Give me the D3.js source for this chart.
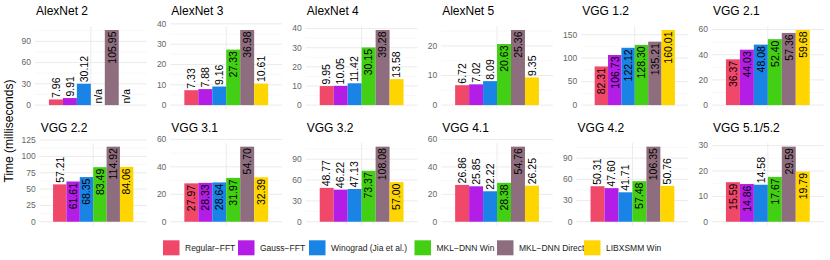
<!DOCTYPE html>
<html>
<head>
  <meta charset="utf-8">
  <title>Convolution layer times</title>
  <style>
    body { margin: 0; background: #fff; }
    text { font-family: "Liberation Sans", Arial, sans-serif; }
  </style>
</head>
<body>
<script src="https://cdnjs.cloudflare.com/ajax/libs/d3/7.8.5/d3.min.js"></script>
<div id="vis"></div>
<script>

var panels = ["AlexNet 2", "AlexNet 3", "AlexNet 4", "AlexNet 5", "VGG 1.2", "VGG 2.1",
              "VGG 2.2", "VGG 3.1", "VGG 3.2", "VGG 4.1", "VGG 4.2", "VGG 5.1/5.2"];

var methods = ["Regular\u2212FFT", "Gauss\u2212FFT", "Winograd (Jia et al.)",
               "MKL\u2212DNN Win", "MKL\u2212DNN Direct", "LIBXSMM Win"];

var colors = ["#ef4869", "#b31de6", "#1a84e6", "#43cf14", "#8e6e7e", "#ffd500"];

// time in ms, one row per panel, null = n/a
var times = [
  [7.96, 9.91, 30.12, null, 105.95, null],
  [7.33, 7.88, 9.16, 27.33, 36.98, 10.61],
  [9.95, 10.05, 11.42, 30.15, 39.28, 13.58],
  [6.72, 7.02, 8.09, 20.63, 25.36, 9.35],
  [82.31, 106.73, 122.12, 128.30, 135.21, 160.01],
  [36.37, 44.03, 48.08, 52.40, 57.36, 59.68],
  [57.21, 61.61, 68.35, 83.49, 114.92, 84.06],
  [27.97, 28.33, 28.64, 31.97, 54.70, 32.39],
  [48.77, 46.22, 47.13, 73.37, 108.08, 57.00],
  [26.86, 25.85, 22.22, 28.38, 54.76, 26.25],
  [50.31, 47.60, 41.71, 57.48, 106.35, 50.76],
  [15.59, 14.86, 14.58, 17.67, 29.59, 19.79]
];

var yTicks = [
  [0, 30, 60, 90],
  [0, 10, 20, 30, 40],
  [0, 10, 20, 30, 40],
  [0, 10, 20],
  [0, 50, 100, 150],
  [0, 20, 40, 60],
  [0, 25, 50, 75, 100, 125],
  [0, 20, 40, 60],
  [0, 30, 60, 90],
  [0, 20, 40, 60],
  [0, 30, 60, 90],
  [0, 10, 20, 30]
];

var W = 830, H = 260;
var rowTop = [26.25, 142.9], ph = 82.6;
var right0 = 146.7, pitch = 135.4;
var legendX = [163, 238, 309, 414.5, 497, 584];

var svg = d3.select("#vis").append("svg")
  .attr("width", W).attr("height", H);

// y axis title
svg.append("text")
  .attr("transform", "translate(13," + 131 + ") rotate(-90)")
  .attr("text-anchor", "middle")
  .style("font-size", "12px")
  .style("fill", "#000")
  .text("Time (milliseconds)");

panels.forEach(function(name, i) {
  var row = Math.floor(i / 6), col = i % 6;
  var vals = times[i], ticks = yTicks[i];
  var max = d3.max(vals);
  var top = rowTop[row], bottom = top + ph;
  var right = right0 + pitch * col;

  var g = svg.append("g");

  // tick labels first, to know how wide the axis is
  var tl = g.selectAll("text.tick").data(ticks).enter().append("text")
    .attr("class", "tick")
    .attr("text-anchor", "end")
    .style("font-size", "8.5px")
    .style("fill", "#666")
    .text(function(d) { return d; });
  var labW = 0;
  tl.each(function() { labW = Math.max(labW, this.getComputedTextLength()); });
  var left = right - 125.2 + labW + 4;

  var y = d3.scaleLinear().domain([-0.05 * max, 1.05 * max]).range([bottom, top]);
  var w = right - left;
  var x = d3.scaleBand().domain(methods)
    .range([left + 0.125 * w, right - 0.125 * w]).padding(0);

  tl.attr("x", left - 4).attr("y", function(d) { return y(d); })
    .attr("dy", "0.33em");

  // minor grid
  var step = ticks[1] - ticks[0];
  var minor = ticks.map(function(t) { return t + step / 2; })
    .filter(function(m) { return m <= 1.05 * max; });
  g.insert("g", "text").selectAll("line").data(minor).enter().append("line")
    .attr("x1", left).attr("x2", right)
    .attr("y1", function(d) { return y(d); }).attr("y2", function(d) { return y(d); })
    .style("stroke", "#f3f3f3").style("stroke-width", 0.6);
  // major grid
  g.insert("g", "text").selectAll("line").data(ticks).enter().append("line")
    .attr("x1", left).attr("x2", right)
    .attr("y1", function(d) { return y(d); }).attr("y2", function(d) { return y(d); })
    .style("stroke", "#ebebeb").style("stroke-width", 1);
  var cx = (left + right) / 2;
  g.append("line").attr("x1", cx).attr("x2", cx).attr("y1", top).attr("y2", bottom)
    .style("stroke", "#ebebeb").style("stroke-width", 1);

  // title
  g.append("text").attr("x", left + 1).attr("y", top - 11)
    .style("font-size", "12px").text(name);

  var data = methods.map(function(m, j) { return { m: m, v: vals[j], c: colors[j] }; });

  g.selectAll("rect").data(data).enter().append("rect")
    .attr("x", function(d) { return x(d.m); })
    .attr("width", x.bandwidth())
    .attr("y", function(d) { return y(d.v || 0); })
    .attr("height", function(d) { return y(0) - y(d.v || 0); })
    .style("fill", function(d) { return d.c; });

  g.selectAll("text.val").data(data).enter().append("text")
    .attr("class", "val")
    .attr("transform", function(d) {
      var v = d.v || 0;
      var inside = v > 0.5 * max;
      return "translate(" + (x(d.m) + x.bandwidth() / 2) + "," +
        (inside ? y(v) + 1.5 : y(v) - 1.5) + ") rotate(-90)";
    })
    .attr("dy", "0.36em")
    .attr("text-anchor", function(d) { return (d.v || 0) > 0.5 * max ? "end" : "start"; })
    .style("font-size", "10.5px")
    .text(function(d) { return d.v == null ? "n/a" : d.v.toFixed(2); });
});

// legend
var lg = svg.selectAll("g.leg").data(methods).enter().append("g")
  .attr("class", "leg")
  .attr("transform", function(d, i) { return "translate(" + legendX[i] + ",240.3)"; });
lg.append("rect").attr("width", 16.5).attr("height", 15)
  .style("fill", function(d, i) { return colors[i]; });
lg.append("text").attr("x", 22).attr("y", 10.8)
  .style("font-size", "8.5px").style("fill", "#222")
  .text(function(d) { return d; });

</script>
</body>
</html>
